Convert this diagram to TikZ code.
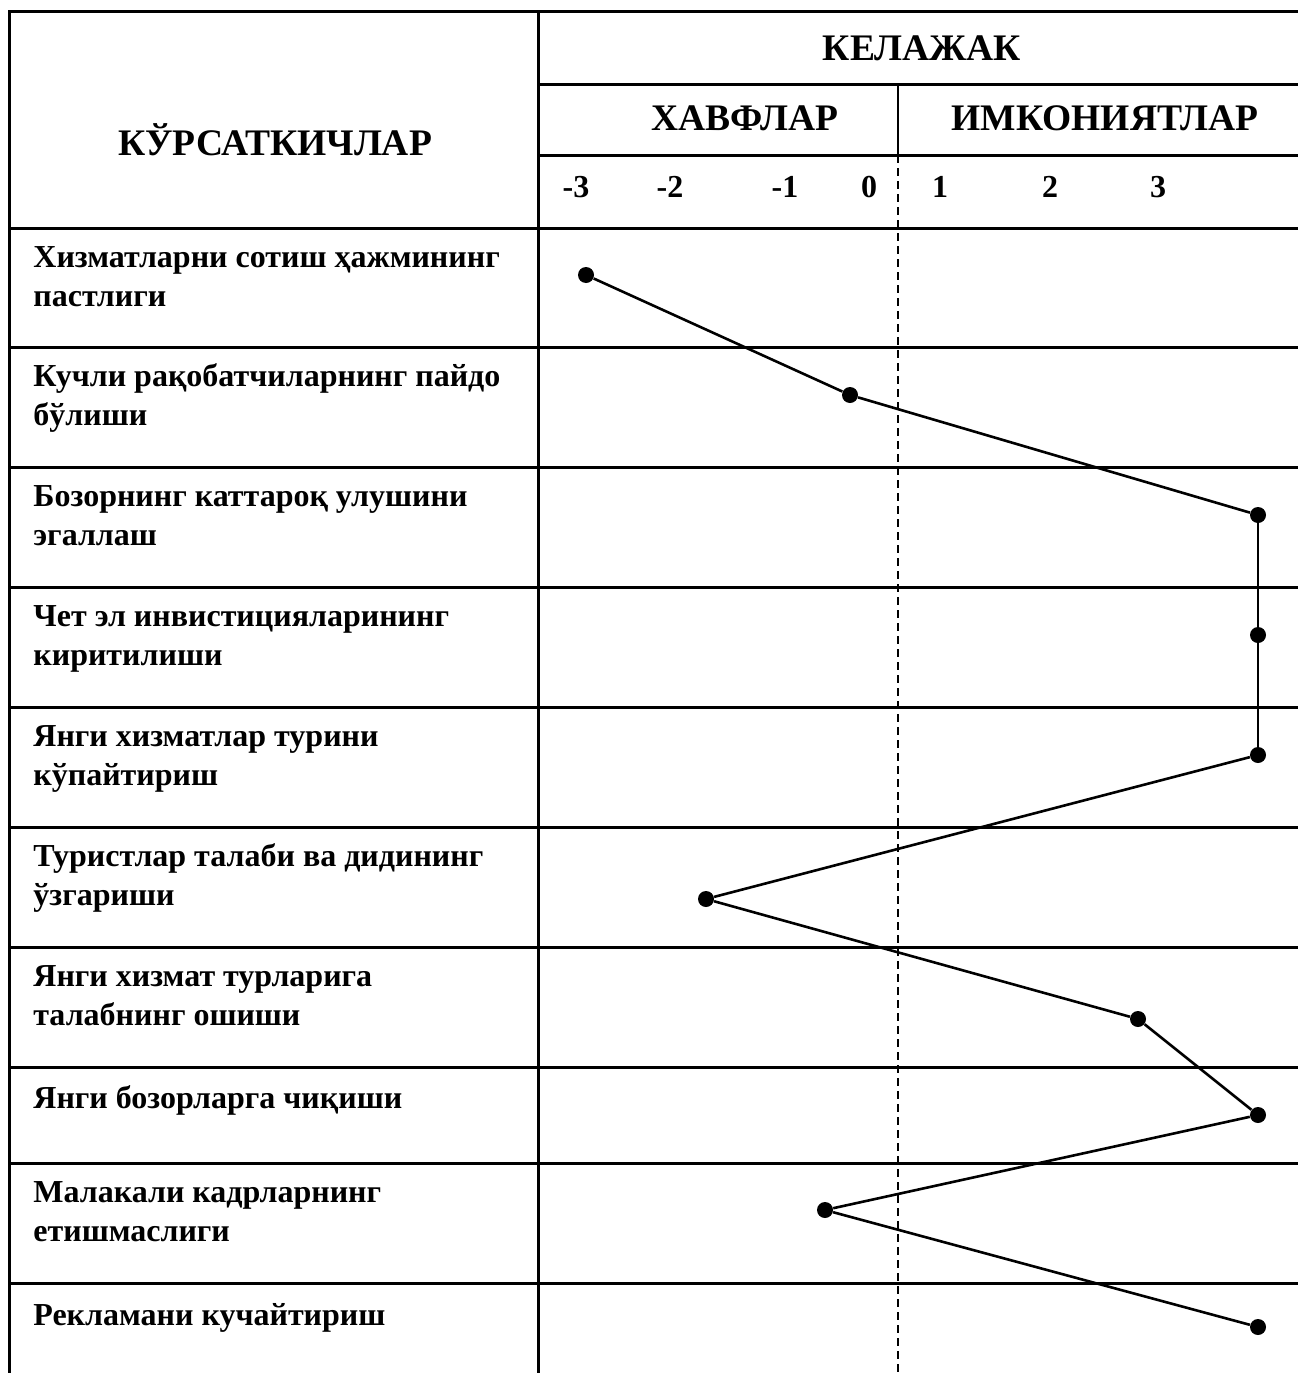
\documentclass[tikz,border=0pt]{standalone}
\usepackage{fontspec}
\setmainfont{Liberation Serif}

\begin{document}
\begin{tikzpicture}[x=1pt,y=-1pt,thick,
	grid line/.style={line width=3pt},
	main node/.style={circle,fill,inner sep=0pt,minimum size=16pt},
	row node/.style={anchor=base west,align=left,inner sep=0pt,
		font=\fontsize{32}{38.5}\selectfont\bfseries},
	head node/.style={anchor=base,inner sep=0pt,font=\fontsize{37.5}{44}\selectfont\bfseries},
	num node/.style={anchor=base,inner sep=0pt,font=\fontsize{32}{38}\selectfont\bfseries}]
	
	\useasboundingbox (0,0) rectangle (1298,1373);
	
	% table
	\draw[grid line] (9,1373) -- (9,11) -- (1298,11);
	\draw[grid line] (538,11) -- (538,1373);
	\draw[grid line] (538,84) -- (1298,84);
	\draw[grid line] (538,155) -- (1298,155);
	\foreach \y in {228,347,467,587,707,827,947,1067,1163,1283}
		\draw[grid line] (9,\y) -- (1298,\y);
	\draw[line width=1.8pt] (898,84) -- (898,155);
	\draw[line width=1.5pt,dash pattern=on 8pt off 5pt] (898,155) -- (898,1373);
	
	% header
	\node[head node] (kurs) at (275,155) {КЎРСАТКИЧЛАР};
	\node[head node] (kel) at (922,60) {КЕЛАЖАК};
	\node[head node] (xavf) at (745,130) {ХАВФЛАР};
	\node[head node] (imk) at (1105,130) {ИМКОНИЯТЛАР};
	\node[num node] (m3) at (576,197) {-3};
	\node[num node] (m2) at (670,197) {-2};
	\node[num node] (m1) at (785,197) {-1};
	\node[num node] (n0) at (869,197) {0};
	\node[num node] (n1) at (940,197) {1};
	\node[num node] (n2) at (1050,197) {2};
	\node[num node] (n3) at (1158,197) {3};
	
	% rows (base of the last line)
	\node[row node] (r1) at (33,306) {Хизматларни сотиш ҳажмининг\\пастлиги};
	\node[row node] (r2) at (33,425) {Кучли рақобатчиларнинг пайдо\\бўлиши};
	\node[row node] (r3) at (33,545) {Бозорнинг каттароқ улушини\\эгаллаш};
	\node[row node] (r4) at (33,665) {Чет эл инвистицияларининг\\киритилиши};
	\node[row node] (r5) at (33,785) {Янги хизматлар турини\\кўпайтириш};
	\node[row node] (r6) at (33,905) {Туристлар талаби ва дидининг\\ўзгариши};
	\node[row node] (r7) at (33,1025) {Янги хизмат турларига\\талабнинг ошиши};
	\node[row node] (r8) at (33,1108) {Янги бозорларга чиқиши};
	\node[row node] (r9) at (33,1241) {Малакали кадрларнинг\\етишмаслиги};
	\node[row node] (r10) at (33,1325) {Рекламани кучайтириш};
	
	% points
	\node[main node] (a) at (586,275) {};
	\node[main node] (b) at (850,395) {};
	\node[main node] (c) at (1258,515) {};
	\node[main node] (d) at (1258,635) {};
	\node[main node] (e) at (1258,755) {};
	\node[main node] (f) at (706,899) {};
	\node[main node] (g) at (1138,1019) {};
	\node[main node] (h) at (1258,1115) {};
	\node[main node] (i) at (825,1210) {};
	\node[main node] (j) at (1258,1327) {};
	
	\path[line width=2.6pt]
	(a) edge (b)
	(b) edge (c)
	(c) edge (d)
	(d) edge (e)
	(e) edge (f)
	(f) edge (g)
	(g) edge (h)
	(h) edge (i)
	(i) edge (j);
\end{tikzpicture}
\end{document}
